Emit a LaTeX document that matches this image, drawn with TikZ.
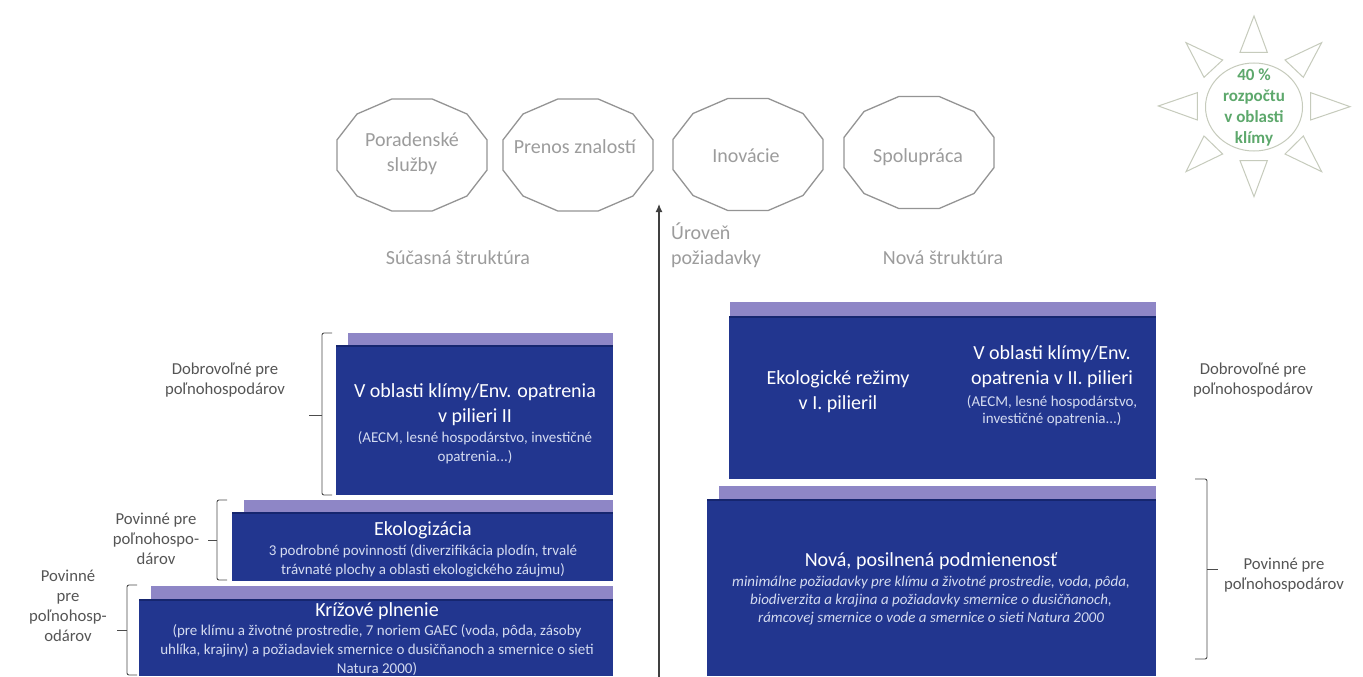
\documentclass[tikz,border=0pt]{standalone}
\usepackage{fontspec}
\setmainfont{Carlito}
\usetikzlibrary{shapes.geometric,arrows.meta}
\definecolor{deep}{HTML}{22368F}
\definecolor{deepedge}{HTML}{16266F}
\definecolor{lilac}{HTML}{8E86C6}
\definecolor{fadegray}{HTML}{9C9C9C}
\definecolor{labelgray}{HTML}{555555}
\definecolor{sunline}{HTML}{C6CBBC}
\definecolor{sungreen}{HTML}{5DA86C}
\definecolor{softwhite}{HTML}{D4DBF0}
\tikzset{
  x=1pt,y=-1pt,
  poly/.style={regular polygon,regular polygon sides=12,minimum size=116pt,inner sep=0pt,xscale=1.34,transform shape,draw=black!42,line width=1.3pt},
  deepbox/.style={anchor=north west,fill=deep,inner sep=0pt,outer sep=0pt},
  strip/.style={anchor=north west,fill=lilac,inner sep=0pt,outer sep=0pt},
  topline/.style={draw=deepedge,line width=1.2pt},
  bracket/.style={draw=black!70,line width=0.9pt,rounded corners=2pt},
  txt/.style={inner sep=0pt,align=center},
  fadetxt/.style={txt,text=fadegray,font=\fontsize{20}{25}\selectfont},
  lab/.style={txt,text=labelgray,font=\fontsize{16.7}{20}\selectfont},
  head/.style={txt,text=white,font=\fontsize{20}{25}\selectfont},
  small/.style={txt,text=softwhite,font=\fontsize{15}{19}\selectfont},
  ray/.style={draw=sunline,line width=1pt,fill=white},
}
\begin{document}
\begin{tikzpicture}
\path[use as bounding box,fill=white] (0,0) rectangle (1363,677);
% sun
\begin{scope}[shift={(1130,0)},x=0.3333pt,y=-0.3333pt]
\draw[ray] (372,48)--(330,157)--(412,157)--cycle;
\draw[ray] (372,590)--(330,482)--(412,482)--cycle;
\draw[ray] (85,318)--(202,278)--(202,360)--cycle;
\draw[ray] (660,320)--(542,278)--(542,360)--cycle;
\draw[ray] (168,128)--(278,180)--(222,232)--cycle;
\draw[ray] (575,128)--(465,180)--(520,232)--cycle;
\draw[ray] (168,515)--(222,408)--(278,462)--cycle;
\draw[ray] (575,515)--(465,462)--(520,408)--cycle;
\end{scope}
\node (suncore) [ellipse,draw=sunline,line width=1pt,minimum width=97pt,minimum height=88pt,inner sep=0pt] at (1254,107) {};
\node (suntxt) [txt,text=sungreen,font=\bfseries\fontsize{17}{21}\selectfont] at (1254,107) {40 \%\\rozpočtu\\v oblasti\\klímy};
% polygons
\node (c1) [poly] at (412,155) {};
\node (c2) [poly] at (578,155) {};
\node (c3) [poly] at (748,154.5) {};
\node (c4) [poly] at (919,152.5) {};
\node (t1) [fadetxt] at (412,153.5) {Poradenské\\služby};
\node (t2) [fadetxt] at (575,147) {Prenos znalostí};
\node (t3) [fadetxt] at (746,156) {Inovácie};
\node (t4) [fadetxt] at (918,157) {Spolupráca};
\node (sucasna) [fadetxt] at (458,258) {Súčasná štruktúra};
\node (nova) [fadetxt] at (943,258) {Nová štruktúra};
\node (uroven) [fadetxt,anchor=west,align=left] at (671,245.5) {Úroveň\\požiadavky};
% axis
\coordinate (axisbase) at (659,677);
\coordinate (axistip) at (659,204);
\draw[-{Latex[length=8pt,width=7pt]},line width=1.2pt,black!75] (axisbase) -- (axistip);
% left boxes
\node (s1) [strip,minimum width=265pt,minimum height=13pt] at (348,333) {};
\node (b1) [deepbox,minimum width=277pt,minimum height=149pt] at (336,346) {};
\node (s2) [strip,minimum width=369pt,minimum height=13pt] at (244,500) {};
\node (b2) [deepbox,minimum width=381pt,minimum height=68pt] at (232,513) {};
\node (s3) [strip,minimum width=462pt,minimum height=14pt] at (151,586) {};
\node (b3) [deepbox,minimum width=474pt,minimum height=76pt] at (139,600) {};
% right boxes
\node (s4) [strip,minimum width=426pt,minimum height=15pt] at (730,302) {};
\node (b4) [deepbox,minimum width=427pt,minimum height=162pt] at (729,317) {};
\node (s5) [strip,minimum width=437pt,minimum height=14pt] at (719,486) {};
\node (b5) [deepbox,minimum width=449pt,minimum height=176pt] at (707,500) {};
\draw[topline] (b1.north west) -- (b1.north east);
\draw[topline] (b2.north west) -- (b2.north east);
\draw[topline] (b3.north west) -- (b3.north east);
\draw[topline] (b4.north west) -- (b4.north east);
\draw[topline] (b5.north west) -- (b5.north east);
% box text
\node (h1) [head] at (475,404.5) {V oblasti klímy/Env. opatrenia\\v pilieri II};
\node (m1) [small] at (475,447.5) {(AECM, lesné hospodárstvo, investičné\\opatrenia...)};
\node (h2) [head] at (423,530) {Ekologizácia};
\node (m2) [small] at (423,560.5) {3 podrobné povinností (diverzifikácia plodín, trvalé\\trávnaté plochy a oblasti ekologického záujmu)};
\node (h3) [head] at (377,611) {Krížové plnenie};
\node (m3) [small] at (377,650.5) {(pre klímu a životné prostredie, 7 noriem GAEC (voda, pôda, zásoby\\uhlíka, krajiny) a požiadaviek smernice o dusičňanoch a smernice o sieti\\Natura 2000)};
\node (h4) [head] at (838,391.5) {Ekologické režimy\\v I. pilieril};
\node (h5) [head] at (1052,367) {V oblasti klímy/Env.\\opatrenia v II. pilieri};
\node (m5) [small,font=\fontsize{15}{17}\selectfont] at (1052,410.5) {(AECM, lesné hospodárstvo,\\investičné opatrenia...)};
\node (h6) [head] at (931,561) {Nová, posilnená podmienenosť};
\node (m6) [small,font=\itshape\fontsize{15}{18}\selectfont] at (931,601) {minimálne požiadavky pre klímu a životné prostredie, voda, pôda,\\biodiverzita a krajina a požiadavky smernice o dusičňanoch,\\rámcovej smernice o vode a smernice o sieti Natura 2000};
% outside labels
\node (l1) [lab] at (225,380) {Dobrovoľné pre\\poľnohospodárov};
\node (l2) [lab] at (156,539) {Povinné pre\\poľnohospo-\\dárov};
\node (l3) [lab] at (68,606) {Povinné\\pre\\poľnohosp-\\odárov};
\node (l4) [lab] at (1253,380) {Dobrovoľné pre\\poľnohospodárov};
\node (l5) [lab] at (1284,575) {Povinné pre\\poľnohospodárov};
% brackets
\coordinate (br1a) at (332,333); \coordinate (br1b) at (322,333); \coordinate (br1c) at (322,495); \coordinate (br1d) at (332,495); \coordinate (br1m) at (322,415); \coordinate (br1t) at (309,415);
\draw[bracket] (br1a) -- (br1b) -- (br1c) -- (br1d);
\draw[bracket] (br1m) -- (br1t);
\coordinate (br2a) at (227,500); \coordinate (br2b) at (217,500); \coordinate (br2c) at (217,580); \coordinate (br2d) at (227,580); \coordinate (br2m) at (217,540); \coordinate (br2t) at (208,540);
\draw[bracket] (br2a) -- (br2b) -- (br2c) -- (br2d);
\draw[bracket] (br2m) -- (br2t);
\coordinate (br3a) at (137,585); \coordinate (br3b) at (127,585); \coordinate (br3c) at (127,675); \coordinate (br3d) at (137,675); \coordinate (br3m) at (127,630); \coordinate (br3t) at (117,630);
\draw[bracket] (br3a) -- (br3b) -- (br3c) -- (br3d);
\draw[bracket] (br3m) -- (br3t);
\coordinate (br4a) at (1195,479); \coordinate (br4b) at (1207,479); \coordinate (br4c) at (1207,659); \coordinate (br4d) at (1195,659); \coordinate (br4m) at (1207,569); \coordinate (br4t) at (1218,569);
\draw[bracket] (br4a) -- (br4b) -- (br4c) -- (br4d);
\draw[bracket] (br4m) -- (br4t);
\end{tikzpicture}
\end{document}
